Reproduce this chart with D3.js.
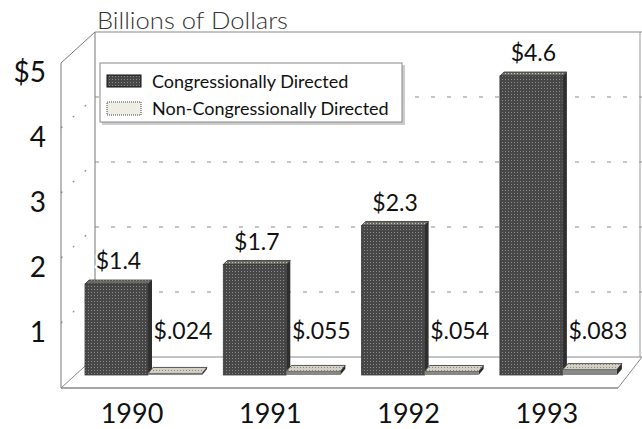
<!DOCTYPE html>
<html><head><meta charset="utf-8">
<script src="https://cdn.jsdelivr.net/npm/d3@7"></script>
<style>body{margin:0;background:#fff}svg{display:block}text{font-family:Lato,"Open Sans",sans-serif}</style>
</head><body>
<script>
const years = ["1990","1991","1992","1993"];
const congressional = [1.4, 1.7, 2.3, 4.6];
const nonCongressional = [0.024, 0.055, 0.054, 0.083];
const congLabels = ["$1.4","$1.7","$2.3","$4.6"];
const nonLabels = ["$.024","$.055","$.054","$.083"];
const yTicks = [1,2,3,4,5];
const yTickLabels = ["1","2","3","4","$5"];

const W=642,H=429;
const svg=d3.select("body").append("svg").attr("width",W).attr("height",H);
const defs=svg.append("defs");
const pat=defs.append("pattern").attr("id","dots").attr("width",3).attr("height",3).attr("patternUnits","userSpaceOnUse");
pat.append("rect").attr("width",3).attr("height",3).attr("fill","#474747");
pat.append("rect").attr("x",1).attr("y",1).attr("width",1).attr("height",1).attr("fill","#8a8a8a");
const pat2=defs.append("pattern").attr("id","dots2").attr("width",3).attr("height",3).attr("patternUnits","userSpaceOnUse");
pat2.append("rect").attr("width",3).attr("height",3).attr("fill","#6a6a62");
pat2.append("rect").attr("x",1).attr("y",1).attr("width",1).attr("height",1).attr("fill","#c8c8b8");
const pat3=defs.append("pattern").attr("id","stripe").attr("width",3).attr("height",3).attr("patternUnits","userSpaceOnUse");
pat3.append("rect").attr("width",3).attr("height",3).attr("fill","#d4d1c4");
pat3.append("rect").attr("x",0).attr("y",1).attr("width",1).attr("height",1).attr("fill","#888");

// geometry
const xFrontL=61, xBackL=95, xRight=642;
const yFront=d3.scaleLinear().domain([0,5]).range([388,63]);
const yBack=d3.scaleLinear().domain([0,5]).range([357,32]);
const yBar=d3.scaleLinear().domain([0,5]).range([375,50]);
const x=d3.scaleBand().domain(years).range([85,85+4*138.3]).padding(0);
const barW=63, slabW=54, dX=4, dY=-4;

const g=svg.append("g");
const line=(x1,y1,x2,y2,c,w,da)=>g.append("line").attr("x1",x1).attr("y1",y1).attr("x2",x2).attr("y2",y2)
  .attr("stroke",c).attr("stroke-width",w||1).attr("stroke-dasharray",da||null);

// back wall gridlines
yTicks.filter(v=>v<5).forEach(v=>{
  line(xBackL,yBack(v),xRight,yBack(v),"#8c8c8c",1.2,"4,12");
  line(xFrontL,yFront(v),xBackL,yBack(v),"#8c8c8c",1.2,"2,14");
});
// frame
line(xFrontL,yFront(5),xFrontL,yFront(0),"#777",1);
line(xBackL,yBack(5),xBackL,yBack(0),"#777",1);
line(xFrontL,yFront(5),xBackL,yBack(5),"#777",1);
line(xBackL,yBack(5),xRight,yBack(5),"#888",1.2);
line(640,yBack(5),640,yBack(0),"#999",1);
line(xBackL,yBack(0),xRight,yBack(0),"#888",1);
line(xFrontL,yFront(0),618,yFront(0),"#888",1.5);
line(xFrontL,yFront(0),xBackL,yBack(0),"#888",1);
line(618,yFront(0),642,yBack(0),"#888",1);

// main bars
years.forEach((yr,i)=>{
  const x0=x(yr), top=yBar(congressional[i]), bot=yBar(0);
  g.append("path").attr("d",`M${x0+barW},${top}L${x0+barW+dX},${top+dY}L${x0+barW+dX},${bot+dY}L${x0+barW},${bot}Z`).attr("fill","#2e2e2e");
  g.append("path").attr("d",`M${x0},${top}L${x0+dX},${top+dY}L${x0+barW+dX},${top+dY}L${x0+barW},${top}Z`).attr("fill","url(#dots2)").attr("stroke","#333").attr("stroke-width",0.8);
  g.append("rect").attr("x",x0).attr("y",top).attr("width",barW).attr("height",bot-top).attr("fill","url(#dots)").attr("stroke","#3a3a3a").attr("stroke-width",0.8);
  // slab
  const s0=x0+barW, st=yBar(nonCongressional[i]), sd=-6, sx=5;
  g.append("path").attr("d",`M${s0},${st}L${s0+sx},${st+sd}L${s0+slabW+sx},${st+sd}L${s0+slabW},${st}Z`)
    .attr("fill","url(#stripe)").attr("stroke","#555").attr("stroke-width",1);
  g.append("path").attr("d",`M${s0+slabW},${st}L${s0+slabW+sx},${st+sd}L${s0+slabW+sx},${bot+sd}L${s0+slabW},${bot}Z`).attr("fill","#2a2a2a");
  g.append("rect").attr("x",s0).attr("y",st).attr("width",slabW).attr("height",Math.max(bot-st,1.5)).attr("fill","#888");
  // labels
  g.append("text").attr("x",x0+barW/2+2).attr("y",top-15).attr("text-anchor","middle").attr("font-size",23).attr("fill","#111")
    .attr("paint-order","stroke").attr("stroke","#fff").attr("stroke-width",4).text(congLabels[i]);
  g.append("text").attr("x",x0+98).attr("y",339).attr("text-anchor","middle").attr("font-size",23).attr("fill","#111").text(nonLabels[i]);
  g.append("text").attr("x",x0+47).attr("y",423).attr("text-anchor","middle").attr("font-size",27).attr("fill","#111").text(yr);
});

// y labels
yTicks.forEach((v,i)=>{
  g.append("text").attr("x",46).attr("y",yFront(v)+19).attr("text-anchor","end").attr("font-size",28).attr("fill","#111").text(yTickLabels[i]);
});

// title
g.append("text").attr("x",97).attr("y",29).attr("font-size",24).attr("font-weight",300).attr("fill","#333")
  .attr("textLength",191).attr("lengthAdjust","spacingAndGlyphs").text("Billions of Dollars");

// legend
const lg=svg.append("g");
lg.append("rect").attr("x",102).attr("y",65).attr("width",303).attr("height",60).attr("fill","#ccc");
lg.append("rect").attr("x",100).attr("y",63).attr("width",302).attr("height",59).attr("fill","#fff").attr("stroke","#888").attr("stroke-width",1);
lg.append("rect").attr("x",107).attr("y",75).attr("width",34).attr("height",12).attr("fill","url(#dots)").attr("stroke","#111");
lg.append("rect").attr("x",107).attr("y",102).attr("width",34).attr("height",13).attr("fill","#efeee4").attr("stroke","#444").attr("stroke-dasharray","1,1");
lg.append("text").attr("x",152).attr("y",88).attr("font-size",18).attr("fill","#111").text("Congressionally Directed");
lg.append("text").attr("x",152).attr("y",115).attr("font-size",18).attr("fill","#111").text("Non-Congressionally Directed");
</script>
</body></html>
